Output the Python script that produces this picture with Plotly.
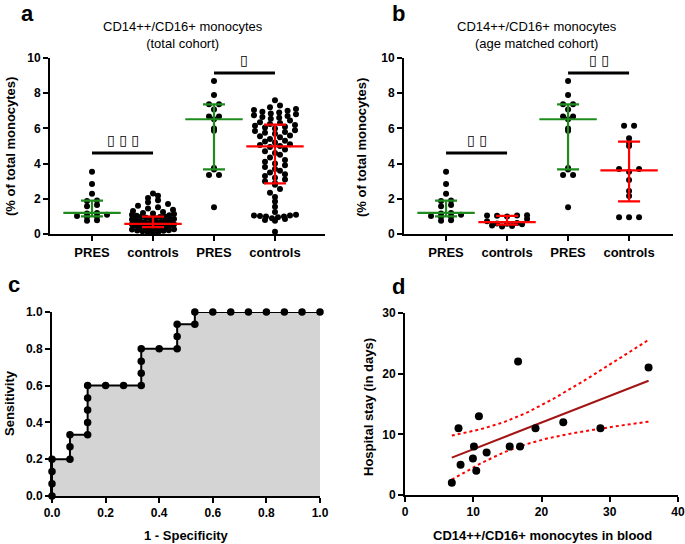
import numpy as np
import plotly.graph_objects as go

W, H = 685, 544

# ---------------- data ----------------
categories = ["PRES", "controls", "PRES", "controls"]

pres_low = [3.54, 2.84, 2.29, 1.90, 1.88, 1.65, 1.58, 1.20, 1.17, 1.10, 1.02, 1.00, 0.98, 0.78, 0.75]
pres_high = [8.70, 7.90, 7.37, 7.37, 7.08, 6.67, 6.67, 6.52, 6.00, 5.87, 3.75, 3.67, 3.35, 3.35, 1.52]

controls_low_total = [
    0.08, 0.10, 0.12, 0.15, 0.18, 0.20, 0.22, 0.25, 0.27, 0.30, 0.30, 0.32, 0.33, 0.35, 0.35, 0.36,
    0.37, 0.38, 0.38, 0.39, 0.40, 0.41, 0.42, 0.43, 0.44, 0.45, 0.46, 0.47, 0.48, 0.49, 0.50, 0.50,
    0.51, 0.52, 0.53, 0.54, 0.55, 0.56, 0.57, 0.58, 0.60, 0.62, 0.63, 0.65, 0.66, 0.68, 0.70, 0.72,
    0.74, 0.76, 0.78, 0.80, 0.82, 0.85, 0.88, 0.90, 0.93, 0.96, 0.98, 1.00, 1.03, 1.06, 1.10, 1.13,
    1.17, 1.20, 1.25, 1.30, 1.38, 1.45, 1.52, 1.60, 1.70, 1.80, 1.92, 2.05, 2.18, 2.30]
controls_high_total = [
    0.13, 0.75, 0.80, 0.85, 0.90, 0.95, 1.00, 1.00, 1.02, 1.05, 1.05, 1.10, 1.25, 1.55, 1.85, 2.10,
    2.35, 2.55, 2.80, 2.90, 3.00, 3.10, 3.20, 3.30, 3.40, 3.50, 3.60, 3.70, 3.80, 3.90, 4.00, 4.10,
    4.20, 4.35, 4.50, 4.60, 4.70, 4.80, 4.95, 5.00, 5.05, 5.10, 5.20, 5.25, 5.30, 5.40, 5.50, 5.55,
    5.60, 5.70, 5.75, 5.80, 5.85, 5.90, 6.00, 6.05, 6.10, 6.15, 6.20, 6.25, 6.30, 6.35, 6.45, 6.55,
    6.60, 6.65, 6.70, 6.75, 6.80, 6.85, 6.90, 6.95, 7.00, 7.05, 7.10, 7.20, 7.30, 7.60]

controls_low_matched = [1.07, 1.05, 1.05, 1.03, 1.00, 0.85, 0.72, 0.62, 0.60, 0.58, 0.55, 0.48, 0.45, 0.42]
controls_high_matched = [6.15, 6.15, 5.44, 5.19, 5.00, 3.69, 3.69, 3.54, 3.07, 2.44, 2.16, 0.95, 0.95, 0.95]

y_ticks_ab = [0, 2, 4, 6, 8, 10]

roc_fpr = [0.0, 0.0, 0.0, 0.0, 0.067, 0.067, 0.067, 0.133, 0.133, 0.133, 0.133, 0.133, 0.2, 0.267,
           0.333, 0.333, 0.333, 0.333, 0.4, 0.467, 0.467, 0.467, 0.533, 0.533, 0.6, 0.667, 0.733,
           0.8, 0.867, 0.933, 1.0]
roc_tpr = [0.0, 0.067, 0.133, 0.2, 0.2, 0.267, 0.333, 0.333, 0.4, 0.467, 0.533, 0.6, 0.6, 0.6,
           0.6, 0.667, 0.733, 0.8, 0.8, 0.8, 0.867, 0.933, 0.933, 1.0, 1.0, 1.0, 1.0, 1.0, 1.0, 1.0, 1.0]

mono_blood = [6.86, 7.84, 8.14, 9.95, 10.10, 10.44, 10.83, 11.96, 15.34, 16.57, 16.86, 19.12, 23.19, 28.63, 35.69]
hospital_stay = [2, 11, 5, 6, 8, 4, 13, 7, 8, 22, 8, 11, 12, 11, 21]

sig_a = ["▯ ▯ ▯", "▯"]
sig_b = ["▯ ▯", "▯ ▯"]

# ---------------- style ----------------
GREEN = "#1f8b1f"
RED = "#ff0000"
DARKRED = "#a31515"
FONT = "Liberation Sans, Arial, sans-serif"
PX_PER_UNIT = 17.6   # vertical px per y unit in panels a/b
PX_PER_CAT = 61.0    # horizontal px per category
DOT = 6


def scatter_offsets(vals, d=5.0, max_half=21.0, step_max=10.0):
    """GraphPad-like scatter: bin values in rows one dot high, spread each row horizontally."""
    v = np.asarray(vals, dtype=float)
    bins = np.floor(v * PX_PER_UNIT / d).astype(int)
    xs = np.zeros(len(v))
    for b in np.unique(bins):
        idx = np.where(bins == b)[0]
        idx = idx[np.argsort(v[idx], kind="stable")]
        m = len(idx)
        if m == 1:
            continue
        step = min(step_max, 2 * max_half / (m - 1))
        offs = (np.arange(m) - (m - 1) / 2) * step
        order = np.argsort(np.abs(offs), kind="stable")
        xs[idx] = offs[order]
    return xs / PX_PER_CAT


fig = go.Figure()


def add_group(vals, pos, color, xa, ya):
    offs = scatter_offsets(vals)
    fig.add_trace(go.Scatter(
        x=pos + offs, y=vals, mode="markers", xaxis=xa, yaxis=ya,
        marker=dict(size=DOT, color="black"), cliponaxis=False, showlegend=False, hoverinfo="y"))
    q1, med, q3 = np.percentile(vals, [25, 50, 75], method="weibull")
    fig.add_trace(go.Scatter(
        x=[pos], y=[med], mode="markers", xaxis=xa, yaxis=ya,
        marker=dict(symbol="line-ew", size=41, color=color, line=dict(width=2.2, color=color)),
        error_y=dict(type="data", symmetric=False, array=[q3 - med], arrayminus=[med - q1],
                     color=color, thickness=2.2, width=11),
        cliponaxis=False, showlegend=False, hoverinfo="skip"))


groups_a = [pres_low, controls_low_total, pres_high, controls_high_total]
groups_b = [pres_low, controls_low_matched, pres_high, controls_high_matched]
colors = [GREEN, RED, GREEN, RED]
for k, (va, vb) in enumerate(zip(groups_a, groups_b)):
    add_group(va, k, colors[k], "x", "y")
    add_group(vb, k, colors[k], "x2", "y2")

# ROC curve
fig.add_trace(go.Scatter(
    x=roc_fpr, y=roc_tpr, mode="lines+markers", xaxis="x3", yaxis="y3",
    line=dict(color="black", width=2), marker=dict(size=7.5, color="black"),
    fill="tozeroy", fillcolor="#d4d4d4", cliponaxis=False, showlegend=False))

# Correlation panel
xb = np.asarray(mono_blood, float)
yb = np.asarray(hospital_stay, float)
slope, intercept = np.polyfit(xb, yb, 1)
n = len(xb)
resid = yb - (slope * xb + intercept)
s = np.sqrt(np.sum(resid ** 2) / (n - 2))
sxx = np.sum((xb - xb.mean()) ** 2)
t95 = 2.160  # t(0.975, df=13)
xg = np.linspace(xb.min(), xb.max(), 60)
yfit = slope * xg + intercept
half = t95 * s * np.sqrt(1 / n + (xg - xb.mean()) ** 2 / sxx)

fig.add_trace(go.Scatter(x=xg, y=yfit + half, mode="lines", xaxis="x4", yaxis="y4",
                         line=dict(color=RED, width=2, dash="dot"), showlegend=False))
fig.add_trace(go.Scatter(x=xg, y=yfit - half, mode="lines", xaxis="x4", yaxis="y4",
                         line=dict(color=RED, width=2, dash="dot"), showlegend=False))
fig.add_trace(go.Scatter(x=xg, y=yfit, mode="lines", xaxis="x4", yaxis="y4",
                         line=dict(color=DARKRED, width=2), showlegend=False))
fig.add_trace(go.Scatter(x=mono_blood, y=hospital_stay, mode="markers", xaxis="x4", yaxis="y4",
                         marker=dict(size=8, color="black"), cliponaxis=False, showlegend=False))

# ---------------- axes ----------------
def ax(**kw):
    base = dict(showline=True, linecolor="black", linewidth=2, ticks="outside", ticklen=5,
                tickwidth=2, tickcolor="black", showgrid=False, zeroline=False, automargin=False,
                tickfont=dict(family=FONT, size=12, color="black", weight="bold"))
    base.update(kw)
    return base


def dx(a, b):
    return [a / W, b / W]


def dy(bottom, top):
    return [1 - bottom / H, 1 - top / H]


cat_font = dict(family=FONT, size=13, color="black", weight="bold")
fig.update_layout(
    width=W, height=H, margin=dict(l=0, r=0, t=0, b=0, autoexpand=False),
    plot_bgcolor="white", paper_bgcolor="white", showlegend=False,
    xaxis=ax(domain=dx(50, 325), range=[-0.689, 3.82], anchor="y", tickvals=[0, 1, 2, 3],
             ticktext=categories, tickfont=cat_font),
    yaxis=ax(domain=dy(234, 58), range=[0, 10], anchor="x", tickvals=y_ticks_ab),
    xaxis2=ax(domain=dx(404, 673), range=[-0.689, 3.72], anchor="y2", tickvals=[0, 1, 2, 3],
              ticktext=categories, tickfont=cat_font),
    yaxis2=ax(domain=dy(234, 58), range=[0, 10], anchor="x2", tickvals=y_ticks_ab),
    xaxis3=ax(domain=dx(52, 320), range=[0, 1], anchor="y3", dtick=0.2, tickformat=".1f"),
    yaxis3=ax(domain=dy(496, 312), range=[0, 1], anchor="x3", dtick=0.2, tickformat=".1f"),
    xaxis4=ax(domain=dx(405, 678), range=[0, 40], anchor="y4", dtick=10),
    yaxis4=ax(domain=dy(495, 313), range=[0, 30], anchor="x4", dtick=10),
)

# significance bars
for xa, ya, labels in [("x", "y", sig_a), ("x2", "y2", sig_b)]:
    for (x0, x1, yv), lab in zip([(0, 1, 4.6), (2, 3, 9.15)], labels):
        fig.add_shape(type="line", xref=xa, yref=ya, x0=x0, x1=x1, y0=yv, y1=yv,
                      line=dict(color="black", width=3))
        fig.add_annotation(xref=xa, yref=ya, x=(x0 + x1) / 2, y=yv, text=lab, showarrow=False,
                           yanchor="bottom", yshift=3, font=dict(family="DejaVu Sans", size=14, color="black"))


def ann(x, y, text, size, bold=False, angle=0):
    fig.add_annotation(xref="paper", yref="paper", x=x / W, y=1 - y / H, text=text, showarrow=False,
                       xanchor="center", yanchor="middle", textangle=angle,
                       font=dict(family=FONT, size=size, color="black", weight="bold" if bold else "normal"))


# panel letters
ann(27, 13, "a", 22, True)
ann(398, 13, "b", 22, True)
ann(14, 284, "c", 22, True)
ann(398, 286, "d", 22, True)

# panel titles
ann(183, 34.5, "CD14++/CD16+ monocytes<br>(total cohort)", 13)
ann(537, 34.5, "CD14++/CD16+ monocytes<br>(age matched cohort)", 13)

# axis titles
ann(10, 147, "(% of total monocytes)", 13, True, -90)
ann(361, 147, "(% of total monocytes)", 13, True, -90)
ann(9, 403, "Sensitivity", 13, True, -90)
ann(186, 535, "1 - Specificity", 13, True)
ann(368, 407, "Hospital stay (in days)", 13, True, -90)
ann(542, 535, "CD14++/CD16+ monocytes in blood", 13, True)

fig.write_html(
    "out.html",
    config={"displayModeBar": False},
    post_script="document.body.style.margin='0';document.body.style.overflow='hidden';",
)
